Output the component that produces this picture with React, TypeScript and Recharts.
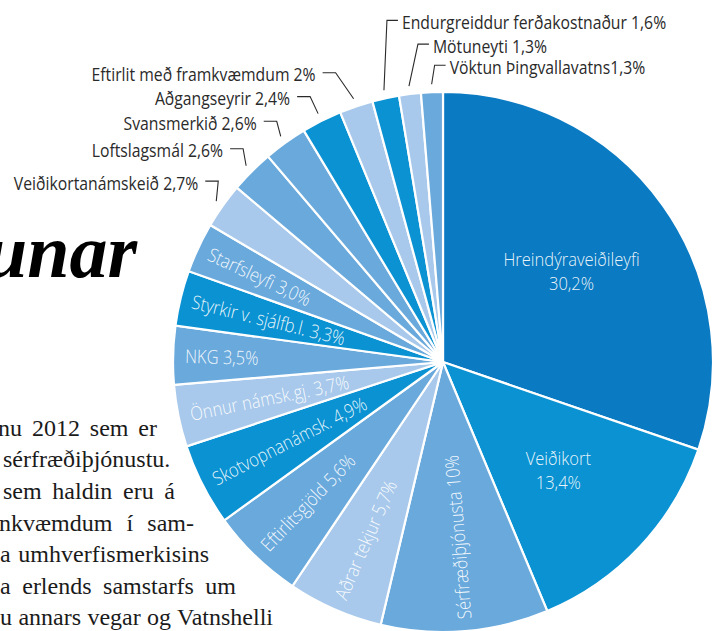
import React from 'react';
import { PieChart, Pie, Cell } from 'recharts';

const categories = [
  'Hreindýraveiðileyfi',
  'Veiðikort',
  'Sérfræðiþjónusta',
  'Aðrar tekjur',
  'Eftirlitsgjöld',
  'Skotvopnanámsk.',
  'Önnur námsk.gj.',
  'NKG',
  'Styrkir v. sjálfb.l.',
  'Starfsleyfi',
  'Veiðikortanámskeið',
  'Loftslagsmál',
  'Svansmerkið',
  'Aðgangseyrir',
  'Eftirlit með framkvæmdum',
  'Endurgreiddur ferðakostnaður',
  'Mötuneyti',
  'Vöktun Þingvallavatns',
];

const values = [30.2, 13.4, 10, 5.7, 5.6, 4.9, 3.7, 3.5, 3.3, 3.0, 2.7, 2.6, 2.6, 2.4, 2, 1.6, 1.3, 1.3];

const valueLabels = ['30,2%', '13,4%', '10%', '5,7%', '5,6%', '4,9%', '3,7%', '3,5%', '3,3%', '3,0%', '2,7%', '2,6%', '2,6%', '2,4%', '2%', '1,6%', '1,3%', '1,3%'];

const labelSeparators = ['', '', ' ', ' ', ' ', ' ', ' ', ' ', ' ', ' ', ' ', ' ', ' ', ' ', ' ', ' ', ' ', ''];

const DARK = '#0a7ac2';
const BRIGHT = '#0a92d2';
const MEDIUM = '#69a9dc';
const LIGHT = '#a8c9eb';

const sliceColors = [DARK, BRIGHT, MEDIUM, LIGHT, MEDIUM, BRIGHT, LIGHT, MEDIUM, BRIGHT, MEDIUM, LIGHT, MEDIUM, MEDIUM, BRIGHT, LIGHT, BRIGHT, LIGHT, MEDIUM];

const labelKinds = ['center', 'center', 'radial', 'radial', 'radial', 'radial', 'radial', 'radial', 'radial', 'radial', 'left', 'left', 'left', 'left', 'left', 'right', 'right', 'right'];

// elbow offsets of leader lines, relative to the point just outside the slice
const leaderOffsets: Record<number, [number, number]> = {
  10: [2, -20],
  11: [-3, -17],
  12: [-4, -15],
  13: [-8, -17],
  14: [-18, -26],
  15: [3, -70],
  16: [9, -42],
  17: [3, -19],
};

const paragraphLines = [
  'nu 2012 sem er',
  'sérfræðiþjónustu.',
  'sem haldin eru á',
  'nkvæmdum í sam-',
  'a umhverfismerkisins',
  'a erlends samstarfs um',
  'u annars vegar og Vatnshelli',
];
const paragraphLefts = [-2, 3, 3, -1, 0, 0, 0];
const paragraphRights = [157, 171, 175, 194, 209, 236, 273];
const paragraphBaselines = [436, 467, 499, 531, 562, 594, 625];

const data = categories.map((name, i) => ({ name, value: values[i] }));

const RAD = Math.PI / 180;
const FONT = '"Open Sans", "Noto Sans", sans-serif';
const SX_OUT = 0.83;
const SX_IN = 0.87;
const OUT_SIZE = 19;
const IN_SIZE = 19;

function renderLabel(props: any) {
  const { cx, cy, midAngle, outerRadius, index } = props;
  const kind = labelKinds[index];
  const ux = Math.cos(-midAngle * RAD);
  const uy = Math.sin(-midAngle * RAD);
  const text = categories[index] + labelSeparators[index] + valueLabels[index];

  if (kind === 'center') {
    const r = outerRadius * 0.585;
    const x = cx + ux * r;
    const y = cy + uy * r;
    return (
      <g key={`l-${index}`}>
        <text transform={`translate(${x},${y - 12}) scale(${SX_IN},1)`} textAnchor="middle" dominantBaseline="central" fill="#ffffff" fillOpacity={0.92} fontFamily={FONT} fontWeight={300} fontSize={IN_SIZE}>
          {categories[index]}
        </text>
        <text transform={`translate(${x},${y + 12}) scale(${SX_IN},1)`} textAnchor="middle" dominantBaseline="central" fill="#ffffff" fillOpacity={0.92} fontFamily={FONT} fontWeight={300} fontSize={IN_SIZE}>
          {valueLabels[index]}
        </text>
      </g>
    );
  }

  if (kind === 'radial') {
    const r = outerRadius - 12;
    const x = cx + ux * r;
    const y = cy + uy * r;
    const rot = Math.atan2(-uy, -ux) / RAD;
    return (
      <text key={`l-${index}`} transform={`translate(${x},${y}) rotate(${rot}) scale(${SX_IN},1)`} textAnchor="start" dominantBaseline="central" fill="#ffffff" fillOpacity={0.92} fontFamily={FONT} fontWeight={300} fontSize={IN_SIZE}>
        {text}
      </text>
    );
  }

  const off = leaderOffsets[index] || [0, -20];
  const ex = cx + ux * (outerRadius + 8);
  const ey = cy + uy * (outerRadius + 8);
  const bx = ex + off[0];
  const by = ey + off[1];
  if (kind === 'left') {
    return (
      <g key={`l-${index}`}>
        <path d={`M${ex},${ey} L${bx},${by} L${bx - 13},${by}`} stroke="#2a2a2a" strokeWidth={1.1} fill="none" />
        <text transform={`translate(${bx - 20},${by + 1}) scale(${SX_OUT},1)`} textAnchor="end" dominantBaseline="central" fill="#2a2a2a" fontFamily={FONT} fontWeight={400} fontSize={OUT_SIZE}>
          {text}
        </text>
      </g>
    );
  }
  return (
    <g key={`l-${index}`}>
      <path d={`M${ex},${ey} L${bx},${by} L${bx + 11},${by}`} stroke="#2a2a2a" strokeWidth={1.1} fill="none" />
      <text transform={`translate(${bx + 15},${by + 1}) scale(${SX_OUT},1)`} textAnchor="start" dominantBaseline="central" fill="#2a2a2a" fontFamily={FONT} fontWeight={400} fontSize={OUT_SIZE}>
        {text}
      </text>
    </g>
  );
}

export default function App() {
  return (
    <div style={{ position: 'absolute', left: 0, top: 0, width: 724, height: 631, overflow: 'hidden', background: '#ffffff' }}>
      <svg width={724} height={631} style={{ position: 'absolute', left: 0, top: 0 }}>
        <text x={137} y={277} textAnchor="end" fontFamily='"Liberation Serif", serif' fontStyle="italic" fontWeight={700} fontSize={76} fill="#000000">
          unar
        </text>
      </svg>
      {paragraphLines.map((line, i) => (
        <div
          key={i}
          style={{
            position: 'absolute',
            left: paragraphLefts[i],
            top: paragraphBaselines[i] - 20,
            width: paragraphRights[i] - paragraphLefts[i],
            fontFamily: '"Liberation Serif", serif',
            fontSize: 24,
            lineHeight: '24px',
            color: '#1a1a1a',
            whiteSpace: 'nowrap',
            textAlign: 'justify',
            textAlignLast: 'justify',
          } as React.CSSProperties}
        >
          {line}
        </div>
      ))}
      <div style={{ position: 'absolute', left: 0, top: 0 }}>
        <PieChart width={724} height={631} margin={{ top: 0, right: 0, bottom: 0, left: 0 }}>
          <Pie
            data={data}
            dataKey="value"
            nameKey="name"
            cx={443}
            cy={362}
            outerRadius={270}
            startAngle={90}
            endAngle={-270}
            stroke="#ffffff"
            strokeWidth={2.2}
            isAnimationActive={false}
            labelLine={false}
            label={renderLabel}
          >
            {data.map((d, i) => (
              <Cell key={d.name} fill={sliceColors[i]} />
            ))}
          </Pie>
        </PieChart>
      </div>
    </div>
  );
}
